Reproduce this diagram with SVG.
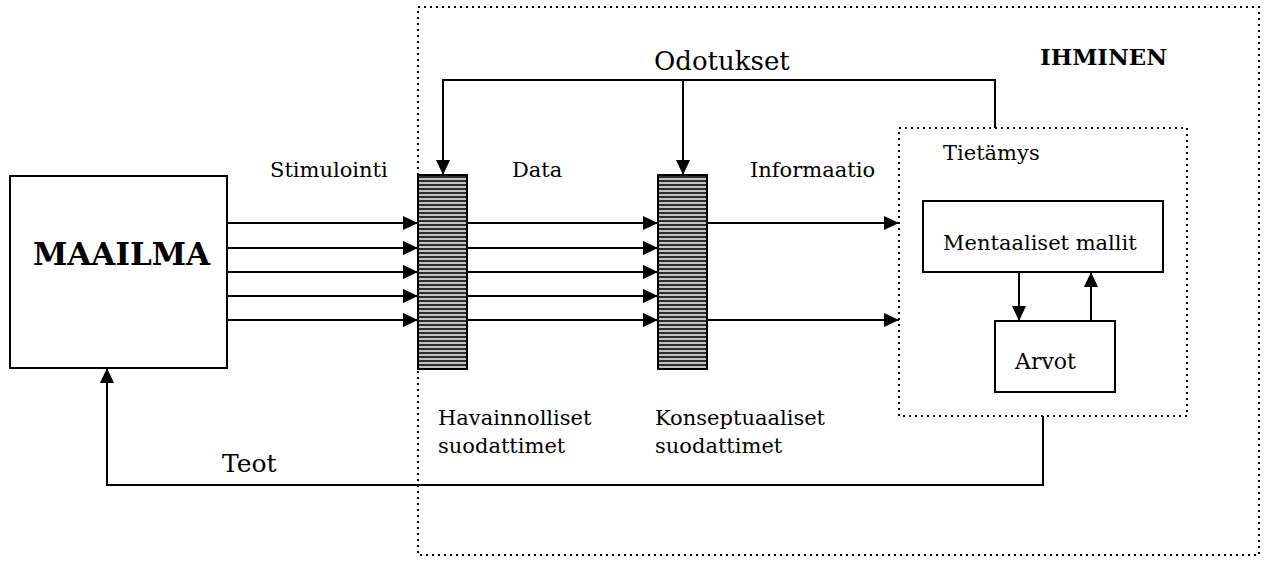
<svg xmlns="http://www.w3.org/2000/svg" width="1269" height="561" viewBox="0 0 1269 561">
  <style>
    .t { font-family: "DejaVu Serif", "Liberation Serif", serif; fill: #000; }
    .s { font-size: 21px; }
    .box { fill: #fff; stroke: #000; stroke-width: 2; }
    .dot { fill: none; stroke: #000; stroke-width: 2; stroke-dasharray: 2 4; }
    .ln { fill: none; stroke: #000; stroke-width: 2; }
    .filter { fill: url(#stripes); stroke: #000; stroke-width: 2; }
  </style>
  <defs>
    <pattern id="stripes" patternUnits="userSpaceOnUse" width="8" height="4">
      <rect width="8" height="4" fill="#c4c4c4"/>
      <rect y="0" width="8" height="2" fill="#2e2e2e"/>
    </pattern>
    <marker id="ah" viewBox="0 0 15 14" refX="15" refY="7" markerWidth="15" markerHeight="14" markerUnits="userSpaceOnUse" orient="auto">
      <path d="M0,0 L15,7 L0,14 Z" fill="#000"/>
    </marker>
  </defs>

  <!-- human boundary -->
  <g id="ihminen">
    <rect class="dot" x="418" y="7" width="841" height="548"/>
    <text class="t" x="1040" y="65" font-size="22" font-weight="bold" textLength="127" lengthAdjust="spacingAndGlyphs">IHMINEN</text>
  </g>

  <!-- world -->
  <g id="maailma">
    <rect class="box" x="10" y="176" width="217" height="192"/>
    <text class="t" x="33" y="265" font-size="31" font-weight="bold">MAAILMA</text>
  </g>

  <!-- perceptual filter -->
  <g id="havainnolliset-suodattimet">
    <rect class="filter" x="418" y="175" width="49" height="194"/>
    <text class="t s" x="438" y="425">Havainnolliset</text>
    <text class="t s" x="438" y="453">suodattimet</text>
  </g>

  <!-- conceptual filter -->
  <g id="konseptuaaliset-suodattimet">
    <rect class="filter" x="658" y="175" width="49" height="194"/>
    <text class="t s" x="655" y="425">Konseptuaaliset</text>
    <text class="t s" x="655" y="453">suodattimet</text>
  </g>

  <!-- knowledge -->
  <g id="tietamys">
    <rect class="dot" x="899" y="128" width="288" height="288"/>
    <text class="t s" x="943" y="160">Tietämys</text>
  </g>

  <g id="mentaaliset-mallit">
    <rect class="box" x="923" y="201" width="240" height="71"/>
    <text class="t s" x="943" y="250">Mentaaliset mallit</text>
  </g>

  <g id="arvot">
    <rect class="box" x="995" y="321" width="120" height="71"/>
    <text class="t" x="1015" y="369" font-size="22">Arvot</text>
  </g>

  <!-- labels along the flow -->
  <g id="labels">
    <text class="t s" x="270" y="177">Stimulointi</text>
    <text class="t s" x="512" y="177">Data</text>
    <text class="t s" x="750" y="177">Informaatio</text>
    <text class="t" x="654" y="70" font-size="26">Odotukset</text>
    <text class="t" x="222" y="472" font-size="25">Teot</text>
  </g>

  <g id="connectors">
    <!-- stimulation -->
    <line class="ln" x1="227" y1="223" x2="418" y2="223" marker-end="url(#ah)"/>
    <line class="ln" x1="227" y1="248" x2="418" y2="248" marker-end="url(#ah)"/>
    <line class="ln" x1="227" y1="272" x2="418" y2="272" marker-end="url(#ah)"/>
    <line class="ln" x1="227" y1="296" x2="418" y2="296" marker-end="url(#ah)"/>
    <line class="ln" x1="227" y1="320" x2="418" y2="320" marker-end="url(#ah)"/>
    <!-- data -->
    <line class="ln" x1="467" y1="223" x2="658" y2="223" marker-end="url(#ah)"/>
    <line class="ln" x1="467" y1="248" x2="658" y2="248" marker-end="url(#ah)"/>
    <line class="ln" x1="467" y1="272" x2="658" y2="272" marker-end="url(#ah)"/>
    <line class="ln" x1="467" y1="296" x2="658" y2="296" marker-end="url(#ah)"/>
    <line class="ln" x1="467" y1="320" x2="658" y2="320" marker-end="url(#ah)"/>
    <!-- information -->
    <line class="ln" x1="707" y1="223" x2="899" y2="223" marker-end="url(#ah)"/>
    <line class="ln" x1="707" y1="320" x2="899" y2="320" marker-end="url(#ah)"/>
    <!-- expectations -->
    <polyline class="ln" points="995,128 995,80 443,80 443,175" marker-end="url(#ah)"/>
    <line class="ln" x1="683" y1="80" x2="683" y2="175" marker-end="url(#ah)"/>
    <!-- models and values -->
    <line class="ln" x1="1019" y1="272" x2="1019" y2="321" marker-end="url(#ah)"/>
    <line class="ln" x1="1091" y1="321" x2="1091" y2="272" marker-end="url(#ah)"/>
    <!-- actions -->
    <polyline class="ln" points="1043,416 1043,485 107,485 107,368" marker-end="url(#ah)"/>
  </g>
</svg>
